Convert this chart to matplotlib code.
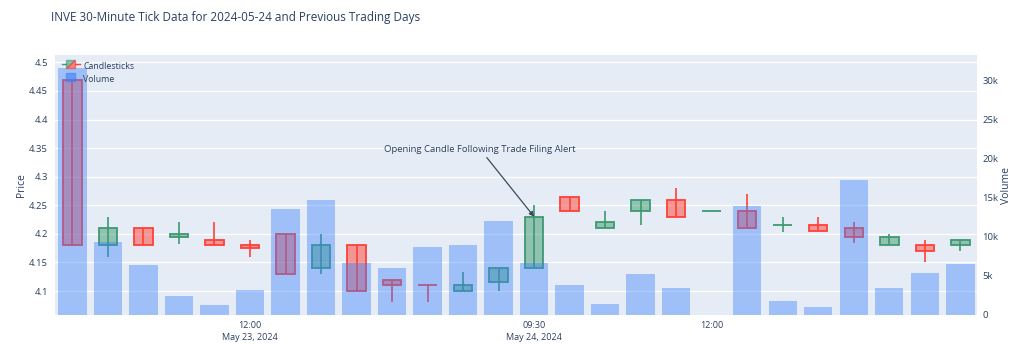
import matplotlib
matplotlib.use("Agg")
import matplotlib.pyplot as plt
from matplotlib.patches import Rectangle, Polygon
from matplotlib.legend_handler import HandlerBase
from matplotlib.lines import Line2D

plt.rcParams['font.family'] = ['Open Sans', 'DejaVu Sans']

# 30-minute candles: May 23 (09:30-15:30) then May 24 (09:30-15:30)
times = ["09:30", "10:00", "10:30", "11:00", "11:30", "12:00", "12:30", "13:00",
         "13:30", "14:00", "14:30", "15:00", "15:30"] * 2
days = ["May 23, 2024"] * 13 + ["May 24, 2024"] * 13

opens = [4.47, 4.18, 4.21, 4.195, 4.19, 4.18, 4.20, 4.14, 4.18, 4.12, 4.11, 4.10, 4.115,
         4.14, 4.265, 4.21, 4.24, 4.26, 4.24, 4.24, 4.215, 4.215, 4.21, 4.18, 4.18, 4.18]
highs = [4.47, 4.23, 4.21, 4.22, 4.22, 4.19, 4.20, 4.20, 4.18, 4.12, 4.11, 4.133, 4.14,
         4.25, 4.265, 4.24, 4.26, 4.28, 4.24, 4.27, 4.229, 4.229, 4.22, 4.20, 4.19, 4.19]
lows = [4.18, 4.16, 4.18, 4.183, 4.18, 4.16, 4.13, 4.13, 4.10, 4.08, 4.08, 4.10, 4.10,
        4.14, 4.24, 4.21, 4.215, 4.23, 4.24, 4.21, 4.203, 4.205, 4.184, 4.18, 4.15, 4.17]
closes = [4.18, 4.21, 4.18, 4.20, 4.18, 4.175, 4.13, 4.18, 4.10, 4.11, 4.11, 4.11, 4.14,
          4.23, 4.24, 4.22, 4.26, 4.23, 4.24, 4.21, 4.215, 4.205, 4.195, 4.195, 4.17, 4.19]
volumes = [31600, 9400, 6400, 2450, 1300, 3200, 13600, 14700, 6700, 6000, 8700, 9000, 12000,
           6700, 3900, 1400, 5300, 3400, 0, 14000, 1750, 1000, 17300, 3400, 5400, 6500]

alert_index = 13
alert_text = "Opening Candle Following Trade Filing Alert"
title = "INVE 30-Minute Tick Data for 2024-05-24 and Previous Trading Days"

INC = "#3D9970"
DEC = "#FF4136"
BAR = (60 / 255, 130 / 255, 250 / 255)
BAR_ALPHA = 0.42
TXT = "#2a3f5f"
BG = "#E5ECF6"

fig = plt.figure(figsize=(10.24, 3.44), dpi=100)
ax = fig.add_axes([55 / 1024, 1 - 315 / 344, 922 / 1024, 260 / 344])
ax.set_facecolor(BG)
for s in ax.spines.values():
    s.set_visible(False)

n = len(opens)
xs = list(range(n))

# candle direction: flat candles compare against the previous close
inc_flags = []
prev_inc = True
prev_close = None
for o, c in zip(opens, closes):
    if c == o:
        inc = (c > prev_close) if (prev_close is not None and c != prev_close) else prev_inc
    else:
        inc = c > o
    inc_flags.append(inc)
    prev_inc = inc
    prev_close = c

body_w = 0.52
for x, o, h, l, c, inc in zip(xs, opens, highs, lows, closes, inc_flags):
    col = INC if inc else DEC
    ax.plot([x, x], [l, h], color=col, lw=1.2, zorder=2, solid_capstyle='butt')
    lo_b, hi_b = min(o, c), max(o, c)
    ax.add_patch(Rectangle((x - body_w / 2, lo_b), body_w, hi_b - lo_b,
                           facecolor=col, alpha=0.5, edgecolor='none', zorder=3))
    ax.add_patch(Rectangle((x - body_w / 2, lo_b), body_w, hi_b - lo_b,
                           facecolor='none', edgecolor=col, lw=1.3, zorder=4))

ax.set_xlim(-0.49, 25.47)
ax.set_ylim(4.058, 4.513)
yt = [4.1, 4.15, 4.2, 4.25, 4.3, 4.35, 4.4, 4.45, 4.5]
ax.set_yticks(yt)
ax.set_yticklabels([f"{v:g}" for v in yt])
ax.grid(axis='y', color='white', lw=1.0, zorder=0)
ax.set_axisbelow(True)
ax.tick_params(axis='y', length=0, pad=5, labelsize=6.8, labelcolor=TXT)
ax.set_ylabel("Price", fontsize=7.5, color=TXT, labelpad=1.5)

tick_idx = [5, 13, 18]
labels = []
for k, i in enumerate(tick_idx):
    if k == 0 or days[i] != days[tick_idx[k - 1]]:
        labels.append(f"{times[i]}\n{days[i]}")
    else:
        labels.append(times[i])
ax.set_xticks(tick_idx)
ax.set_xticklabels(labels, linespacing=1.5)
ax.tick_params(axis='x', length=0, pad=4, labelsize=6.5, labelcolor=TXT)

# volume on the secondary axis, drawn over the candles
ax2 = ax.twinx()
for s in ax2.spines.values():
    s.set_visible(False)
ax2.bar(xs, volumes, width=0.8, color=BAR, alpha=BAR_ALPHA, edgecolor='none', zorder=5)
ax2.set_ylim(0, 33300)
vt = [0, 5000, 10000, 15000, 20000, 25000, 30000]
ax2.set_yticks(vt)
ax2.set_yticklabels(["0" if v == 0 else f"{v // 1000}k" for v in vt])
ax2.tick_params(axis='y', length=0, pad=4, labelsize=6.8, labelcolor=TXT)
ax2.set_ylabel("Volume", fontsize=7.5, color=TXT, labelpad=1.5)

# annotation on the alert candle
ax2.annotate(alert_text, xy=(alert_index, closes[alert_index]), xycoords=ax.transData,
             xytext=(-54, 63), textcoords='offset pixels',
             ha='center', va='bottom', fontsize=6.8, color=TXT, zorder=10,
             arrowprops=dict(arrowstyle='-|>', color='#3c4a5c', lw=0.9,
                             mutation_scale=7, shrinkA=1, shrinkB=0))


class CandleHandler(HandlerBase):
    def create_artists(self, legend, orig, xd, yd, w, h, fontsize, trans):
        bx0, bx1 = xd + w * 0.25, xd + w * 0.75
        by0, by1 = yd, yd + h
        g = Polygon([[bx0, by0], [bx0, by1], [bx1, by1]], closed=True,
                    facecolor=INC, alpha=0.6, edgecolor=INC, lw=1, transform=trans)
        r = Polygon([[bx0, by0], [bx1, by0], [bx1, by1]], closed=True,
                    facecolor=DEC, alpha=0.6, edgecolor=DEC, lw=1, transform=trans)
        lg = Line2D([xd, bx0], [yd + h / 2] * 2, color=INC, lw=1, transform=trans)
        lr = Line2D([bx1, xd + w], [yd + h / 2] * 2, color=DEC, lw=1, transform=trans)
        return [g, r, lg, lr]


class BarHandler(HandlerBase):
    def create_artists(self, legend, orig, xd, yd, w, h, fontsize, trans):
        p = Rectangle((xd + w * 0.25, yd), w * 0.5, h, facecolor=BAR, alpha=0.6,
                      edgecolor=BAR, lw=1, transform=trans)
        return [p]


h1 = Rectangle((0, 0), 1, 1)
h2 = Rectangle((0, 0), 1, 1)
ax2.legend([h1, h2], ["Candlesticks", "Volume"],
           handler_map={h1: CandleHandler(), h2: BarHandler()},
           loc='upper left', bbox_to_anchor=(0.002, 0.995), frameon=False,
           fontsize=6.3, labelcolor=TXT, handlelength=2.0, handleheight=1.0,
           handletextpad=0.4, labelspacing=0.5, borderaxespad=0.2)

fig.text(51 / 1024, 1 - 17 / 344, title, ha='left', va='center', fontsize=8.5, color=TXT)

fig.savefig("out.png", dpi=100, facecolor='white')
